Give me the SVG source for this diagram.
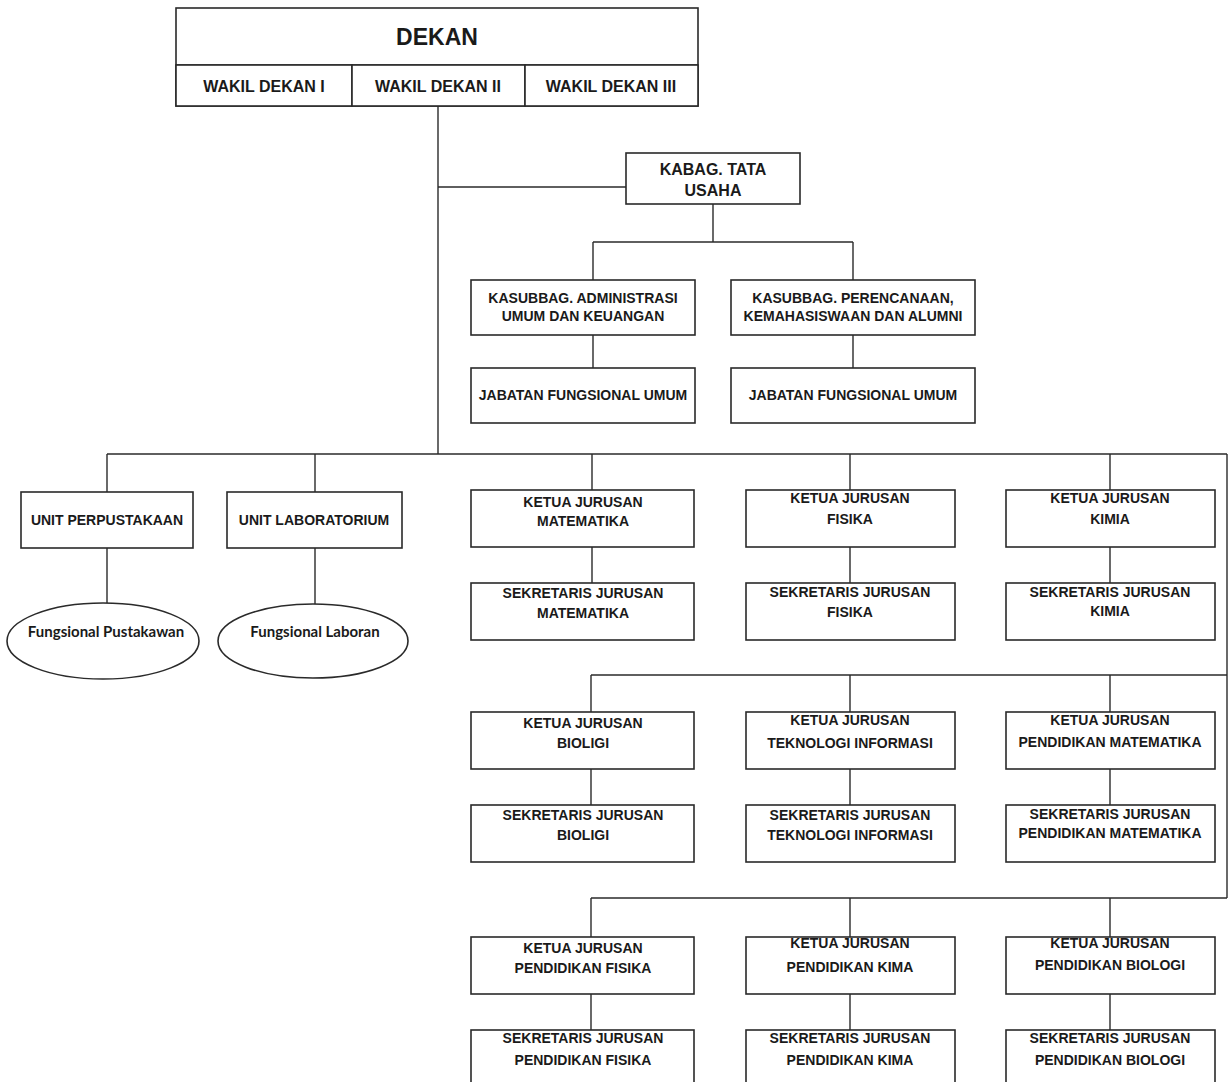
<svg xmlns="http://www.w3.org/2000/svg" width="1229" height="1082" viewBox="0 0 1229 1082">
<style>
.bg{fill:#ffffff}
.box{fill:#ffffff;stroke:#2a2a2a;stroke-width:1.6}
.ell{fill:#ffffff;stroke:#2a2a2a;stroke-width:1.6}
.ln{fill:none;stroke:#2a2a2a;stroke-width:1.4}
.t{font-family:"Liberation Sans",Arial,sans-serif;font-weight:bold;font-size:14px;fill:#1a1a1a;text-anchor:middle}
.tw{font-size:16px}
.tk{font-size:16px}
.td{font-size:23px}
.te{font-family:Lato,"Liberation Sans",sans-serif;font-weight:bold;font-size:15px;fill:#1a1a1a;text-anchor:middle}
</style>
<rect class="bg" x="0" y="0" width="1229" height="1082"/>

<g id="connectors">
<polyline class="ln" points="438,106 438,454"/>
<polyline class="ln" points="438,187 626,187"/>
<polyline class="ln" points="713,204 713,242"/>
<polyline class="ln" points="593,242 853,242"/>
<polyline class="ln" points="593,242 593,280"/>
<polyline class="ln" points="853,242 853,280"/>
<polyline class="ln" points="593,335 593,368"/>
<polyline class="ln" points="853,335 853,368"/>
<polyline class="ln" points="107,454 1227,454"/>
<polyline class="ln" points="1227,454 1227,898"/>
<polyline class="ln" points="107,454 107,492"/>
<polyline class="ln" points="315,454 315,492"/>
<polyline class="ln" points="107,548 107,603"/>
<polyline class="ln" points="315,548 315,604"/>
<polyline class="ln" points="592,454 592,490"/>
<polyline class="ln" points="850,454 850,490"/>
<polyline class="ln" points="1110,454 1110,490"/>
<polyline class="ln" points="592,547 592,583"/>
<polyline class="ln" points="850,547 850,583"/>
<polyline class="ln" points="1110,547 1110,583"/>
<polyline class="ln" points="591,675 1227,675"/>
<polyline class="ln" points="591,675 591,712"/>
<polyline class="ln" points="850,675 850,712"/>
<polyline class="ln" points="1110,675 1110,712"/>
<polyline class="ln" points="591,769 591,805"/>
<polyline class="ln" points="850,769 850,805"/>
<polyline class="ln" points="1110,769 1110,805"/>
<polyline class="ln" points="591,898 1227,898"/>
<polyline class="ln" points="591,898 591,937"/>
<polyline class="ln" points="850,898 850,937"/>
<polyline class="ln" points="1110,898 1110,937"/>
<polyline class="ln" points="591,994 591,1030"/>
<polyline class="ln" points="850,994 850,1030"/>
<polyline class="ln" points="1110,994 1110,1030"/>
</g>

<g id="dekan">
<rect class="box" x="176" y="8" width="522" height="98"/>
<line class="ln" x1="176" y1="65" x2="698" y2="65"/>
<text class="t td" x="437" y="45">DEKAN</text>
</g>
<g id="wakil-dekan-1">
<rect class="box" x="176" y="65" width="176" height="41"/>
<text class="t tw" x="264" y="92">WAKIL DEKAN I</text>
</g>
<g id="wakil-dekan-2">
<rect class="box" x="352" y="65" width="173" height="41"/>
<text class="t tw" x="438" y="92">WAKIL DEKAN II</text>
</g>
<g id="wakil-dekan-3">
<rect class="box" x="525" y="65" width="173" height="41"/>
<text class="t tw" x="611" y="92">WAKIL DEKAN III</text>
</g>

<g id="kabag">
<rect class="box" x="626" y="153" width="174" height="51"/>
<text class="t tk" x="713" y="175">KABAG. TATA</text>
<text class="t tk" x="713" y="196">USAHA</text>
</g>

<g id="kasubbag-adm">
<rect class="box" x="471" y="280" width="224" height="55"/>
<text class="t" x="583" y="303">KASUBBAG. ADMINISTRASI</text>
<text class="t" x="583" y="321">UMUM DAN KEUANGAN</text>
</g>
<g id="kasubbag-per">
<rect class="box" x="731" y="280" width="244" height="55"/>
<text class="t" x="853" y="303">KASUBBAG. PERENCANAAN,</text>
<text class="t" x="853" y="321">KEMAHASISWAAN DAN ALUMNI</text>
</g>
<g id="jfu-1">
<rect class="box" x="471" y="368" width="224" height="55"/>
<text class="t" x="583" y="400">JABATAN FUNGSIONAL UMUM</text>
</g>
<g id="jfu-2">
<rect class="box" x="731" y="368" width="244" height="55"/>
<text class="t" x="853" y="400">JABATAN FUNGSIONAL UMUM</text>
</g>

<g id="unit-perpustakaan">
<rect class="box" x="21" y="492" width="172" height="56"/>
<text class="t" x="107" y="525">UNIT PERPUSTAKAAN</text>
</g>
<g id="unit-laboratorium">
<rect class="box" x="227" y="492" width="175" height="56"/>
<text class="t" x="314" y="525">UNIT LABORATORIUM</text>
</g>
<g id="fungsional-pustakawan">
<ellipse class="ell" cx="103" cy="641" rx="96" ry="38"/>
<text class="te" x="106" y="637">Fungsional Pustakawan</text>
</g>
<g id="fungsional-laboran">
<ellipse class="ell" cx="313" cy="641" rx="95" ry="37"/>
<text class="te" x="315" y="637">Fungsional Laboran</text>
</g>

<g id="ketua-matematika">
<rect class="box" x="471" y="490" width="223" height="57"/>
<text class="t" x="583" y="507">KETUA JURUSAN</text>
<text class="t" x="583" y="526">MATEMATIKA</text>
</g>
<g id="sek-matematika">
<rect class="box" x="471" y="583" width="223" height="57"/>
<text class="t" x="583" y="598">SEKRETARIS JURUSAN</text>
<text class="t" x="583" y="618">MATEMATIKA</text>
</g>
<g id="ketua-fisika">
<rect class="box" x="746" y="490" width="209" height="57"/>
<text class="t" x="850" y="503">KETUA JURUSAN</text>
<text class="t" x="850" y="524">FISIKA</text>
</g>
<g id="sek-fisika">
<rect class="box" x="746" y="583" width="209" height="57"/>
<text class="t" x="850" y="597">SEKRETARIS JURUSAN</text>
<text class="t" x="850" y="617">FISIKA</text>
</g>
<g id="ketua-kimia">
<rect class="box" x="1006" y="490" width="209" height="57"/>
<text class="t" x="1110" y="503">KETUA JURUSAN</text>
<text class="t" x="1110" y="524">KIMIA</text>
</g>
<g id="sek-kimia">
<rect class="box" x="1006" y="583" width="209" height="57"/>
<text class="t" x="1110" y="597">SEKRETARIS JURUSAN</text>
<text class="t" x="1110" y="616">KIMIA</text>
</g>

<g id="ketua-biologi">
<rect class="box" x="471" y="712" width="223" height="57"/>
<text class="t" x="583" y="728">KETUA JURUSAN</text>
<text class="t" x="583" y="748">BIOLIGI</text>
</g>
<g id="sek-biologi">
<rect class="box" x="471" y="805" width="223" height="57"/>
<text class="t" x="583" y="820">SEKRETARIS JURUSAN</text>
<text class="t" x="583" y="840">BIOLIGI</text>
</g>
<g id="ketua-ti">
<rect class="box" x="746" y="712" width="209" height="57"/>
<text class="t" x="850" y="725">KETUA JURUSAN</text>
<text class="t" x="850" y="748">TEKNOLOGI INFORMASI</text>
</g>
<g id="sek-ti">
<rect class="box" x="746" y="805" width="209" height="57"/>
<text class="t" x="850" y="820">SEKRETARIS JURUSAN</text>
<text class="t" x="850" y="840">TEKNOLOGI INFORMASI</text>
</g>
<g id="ketua-pmat">
<rect class="box" x="1006" y="712" width="209" height="57"/>
<text class="t" x="1110" y="725">KETUA JURUSAN</text>
<text class="t" x="1110" y="747">PENDIDIKAN MATEMATIKA</text>
</g>
<g id="sek-pmat">
<rect class="box" x="1006" y="805" width="209" height="57"/>
<text class="t" x="1110" y="819">SEKRETARIS JURUSAN</text>
<text class="t" x="1110" y="838">PENDIDIKAN MATEMATIKA</text>
</g>

<g id="ketua-pfisika">
<rect class="box" x="471" y="937" width="223" height="57"/>
<text class="t" x="583" y="953">KETUA JURUSAN</text>
<text class="t" x="583" y="973">PENDIDIKAN FISIKA</text>
</g>
<g id="sek-pfisika">
<rect class="box" x="471" y="1030" width="223" height="57"/>
<text class="t" x="583" y="1043">SEKRETARIS JURUSAN</text>
<text class="t" x="583" y="1065">PENDIDIKAN FISIKA</text>
</g>
<g id="ketua-pkima">
<rect class="box" x="746" y="937" width="209" height="57"/>
<text class="t" x="850" y="948">KETUA JURUSAN</text>
<text class="t" x="850" y="972">PENDIDIKAN KIMA</text>
</g>
<g id="sek-pkima">
<rect class="box" x="746" y="1030" width="209" height="57"/>
<text class="t" x="850" y="1043">SEKRETARIS JURUSAN</text>
<text class="t" x="850" y="1065">PENDIDIKAN KIMA</text>
</g>
<g id="ketua-pbiologi">
<rect class="box" x="1006" y="937" width="209" height="57"/>
<text class="t" x="1110" y="948">KETUA JURUSAN</text>
<text class="t" x="1110" y="970">PENDIDIKAN BIOLOGI</text>
</g>
<g id="sek-pbiologi">
<rect class="box" x="1006" y="1030" width="209" height="57"/>
<text class="t" x="1110" y="1043">SEKRETARIS JURUSAN</text>
<text class="t" x="1110" y="1065">PENDIDIKAN BIOLOGI</text>
</g>
</svg>
